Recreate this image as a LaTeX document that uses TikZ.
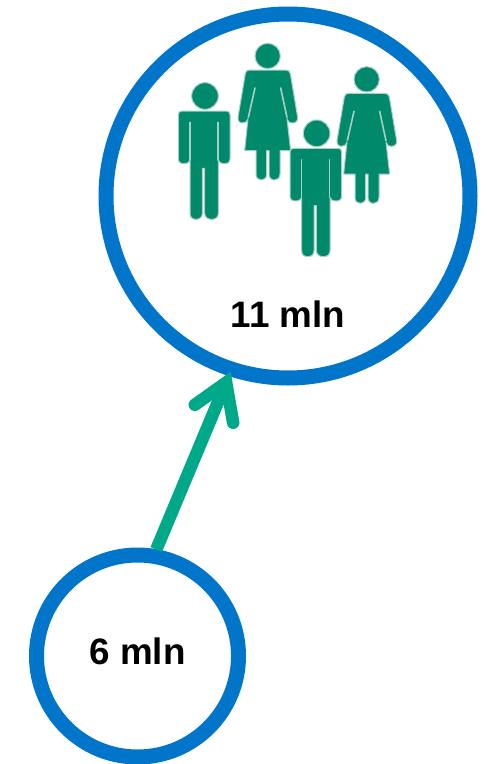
\documentclass[tikz,border=0pt]{standalone}
\usepackage{fontspec}
\setmainfont{Liberation Sans}
\usetikzlibrary{calc}
\definecolor{ringblue}{HTML}{0075C9}
\definecolor{arrowgreen}{HTML}{00A88A}
\definecolor{figgreen}{HTML}{00896B}
\definecolor{figedge}{HTML}{A9CFC5}
\tikzset{
  x=1pt,y=-1pt,
  ring/.style={circle,draw=ringblue,line width=15pt,fill=white,inner sep=0pt,outer sep=0pt},
  label text/.style={font=\fontsize{36.8}{40}\selectfont\bfseries,text=black,inner sep=0pt},
  link/.style={draw=arrowgreen,line width=12.5pt},
  barb/.style={draw=arrowgreen,line width=12.5pt,line cap=round,miter limit=10,line join=miter},
  figfill/.style={fill=figgreen,draw=figedge,line width=1pt,line join=round},
  slit/.style={draw=figedge,line width=1.6pt,line cap=round},
  local/.style={x=0.33333pt,y=-0.33333pt},
}
\newcommand{\manfig}[2]{%
  \begin{scope}[shift={(#1,#2)},local]
    \path[figfill] (135,198) circle[radius=40];
    \path[figfill] (66,243) -- (199,243)
      .. controls (206,243) and (210,247) .. (210,254)
      -- (210,386) .. controls (210,396) and (204,401) .. (194,401)
      .. controls (182,401) and (176,396) .. (175,390)
      -- (175,550) .. controls (175,562) and (167,568) .. (155,568)
      .. controls (143,568) and (135,562) .. (134,550)
      -- (134,415) -- (127,415) -- (127,550)
      .. controls (127,562) and (119,568) .. (108,568)
      .. controls (97,568) and (90,562) .. (90,550)
      -- (90,390) .. controls (89,396) and (83,401) .. (71,401)
      .. controls (61,401) and (55,396) .. (55,386)
      -- (55,254) .. controls (55,247) and (59,243) .. (66,243) -- cycle;
    \path[slit] (90,277) -- (90,390);
    \path[slit] (174,277) -- (174,390);
  \end{scope}}
\newcommand{\womanfig}[2]{%
  \begin{scope}[shift={(#1,#2)},local]
    \path[figfill] (323,78) circle[radius=38];
    \path[figfill] (268,120) -- (378,120)
      .. controls (385,120) and (389,124) .. (391,131)
      -- (413,262) .. controls (414,272) and (408,279) .. (398,279)
      .. controls (388,279) and (383,274) .. (381,266)
      -- (392,362) -- (360,362) -- (360,432)
      .. controls (360,444) and (352,450) .. (344,450)
      .. controls (334,450) and (327,444) .. (327,432)
      -- (327,362) -- (320,362) -- (320,432)
      .. controls (320,444) and (313,450) .. (304,450)
      .. controls (295,450) and (288,444) .. (288,432)
      -- (288,362) -- (254,362) -- (264,266)
      .. controls (262,274) and (257,279) .. (248,279)
      .. controls (238,279) and (233,272) .. (234,262)
      -- (256,131) .. controls (258,124) and (261,120) .. (268,120) -- cycle;
    \path[slit] (285,174) -- (265,262);
    \path[slit] (362,174) -- (381,262);
  \end{scope}}
\begin{document}
\begin{tikzpicture}[x=1pt,y=-1pt]
  \useasboundingbox (0,0) rectangle (487,764);
  \node[ring,minimum size=364pt] (big) at (288,196) {};
  \node[ring,minimum size=202pt] (small) at (137.5,656) {};
  \womanfig{160}{30}
  \womanfig{259}{53.33}
  \manfig{160}{30}
  \manfig{271.67}{67.33}
  \node[label text] (biglabel) at (288,314) {11 mln};
  \node[label text] (smalllabel) at (137.5,651) {6 mln};
  \coordinate (vertex) at ($(big.252.3)+(-5.6,13.4)$);
  \coordinate (barbleft) at ($(vertex)+(-31.3,22.3)$);
  \coordinate (barbright) at ($(vertex)+(7,40.3)$);
  \coordinate (tail) at ($(small.center)!1.07!(small.80)$);
  \path[link] (tail) -- (vertex);
  \path[barb] (barbleft) -- (vertex) -- (barbright);
\end{tikzpicture}
\end{document}
